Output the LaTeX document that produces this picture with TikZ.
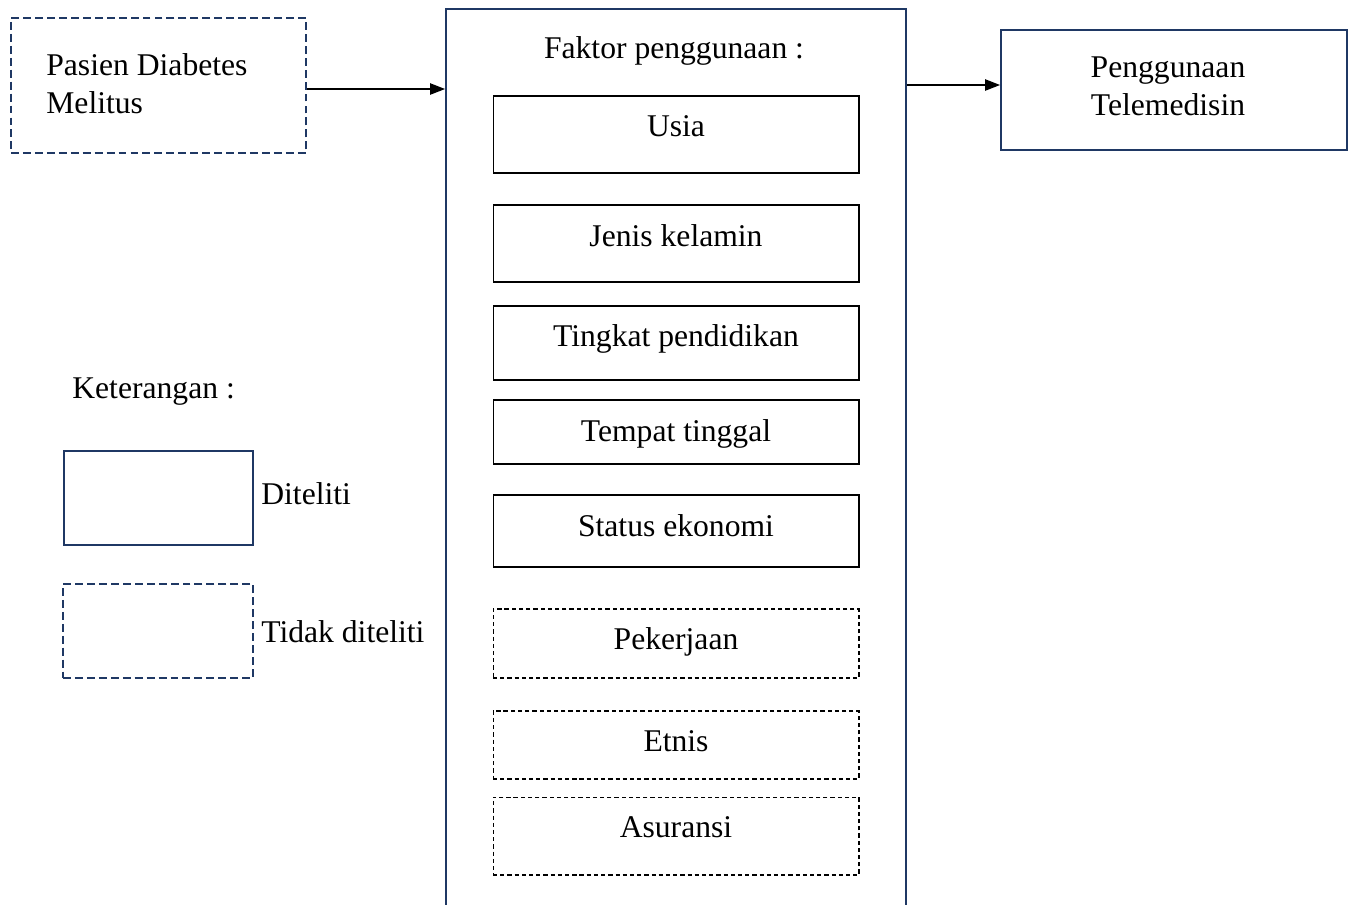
\documentclass[tikz,border=0pt]{standalone}
\usepackage{fontspec}
\setmainfont{Liberation Serif}
\usetikzlibrary{arrows.meta,calc}
\definecolor{navy}{RGB}{31,56,100}
\tikzset{
  navybox/.style={draw=navy, line width=1.2pt, rectangle, inner sep=0pt},
  navydash/.style={navybox, dash pattern=on 4.5pt off 2.3pt},
  ibox/.style={draw=black, line width=0.6pt, rectangle, inner sep=0pt, minimum width=7.32cm},
  idash/.style={ibox, dash pattern=on 2.4pt off 1.7pt},
  txt/.style={inner sep=0pt, font=\fontsize{18}{22}\selectfont},
  arr/.style={-{Triangle[length=8.5pt,width=6.5pt]}, line width=0.6pt, draw=black}
}
\begin{document}
\begin{tikzpicture}[x=0.02cm,y=-0.02cm]
\useasboundingbox (0,0) rectangle (1354,904);
\clip (0,0) rectangle (1354,904);
\fill[white] (0,0) rectangle (1354,904);

% left input box
\node[navydash, minimum width=5.9cm, minimum height=2.7cm] (pasien) at (158.5,85.5) {};
\node[txt, anchor=base west] (p1) at (46,75) {Pasien Diabetes};
\node[txt, anchor=base west] (p2) at (46,113) {Melitus};

% big factor box
\node[navybox, anchor=north west, minimum width=9.2cm, minimum height=20cm] (faktor) at (445,8) {};
\node[txt, anchor=base] (ft) at (674,58) {Faktor penggunaan :};

% inner boxes
\node[ibox, minimum height=1.54cm] (usia) at (676,134.5) {};
\node[txt, anchor=base] (usiat) at (676,136) {Usia};
\node[ibox, minimum height=1.54cm] (jenis) at (676,243.5) {};
\node[txt, anchor=base] (jenist) at (676,246) {Jenis kelamin};
\node[ibox, minimum height=1.48cm] (tingkat) at (676,343) {};
\node[txt, anchor=base] (tingkatt) at (676,346) {Tingkat pendidikan};
\node[ibox, minimum height=1.28cm] (tempat) at (676,432) {};
\node[txt, anchor=base] (tempatt) at (676,441) {Tempat tinggal};
\node[ibox, minimum height=1.44cm] (status) at (676,531) {};
\node[txt, anchor=base] (statust) at (676,536) {Status ekonomi};
\node[idash, minimum height=1.38cm] (pekerjaan) at (676,643.5) {};
\node[txt, anchor=base] (pekerjaant) at (676,649) {Pekerjaan};
\node[idash, minimum height=1.36cm] (etnis) at (676,745) {};
\node[txt, anchor=base] (etnist) at (676,751) {Etnis};
\node[idash, minimum height=1.56cm] (asuransi) at (676,836) {};
\node[txt, anchor=base] (asuransit) at (676,837) {Asuransi};

% output box
\node[navybox, minimum width=6.92cm, minimum height=2.4cm] (out) at (1174,90) {};
\node[txt, anchor=base] (o1) at (1168,77) {Penggunaan};
\node[txt, anchor=base] (o2) at (1168,115) {Telemedisin};

% connectors
\draw[arr] ([yshift=-0.07cm]pasien.east) -- ([yshift=-0.07cm]pasien.east -| faktor.west);
\draw[arr] ([yshift=0.1cm]out.west -| faktor.east) -- ([yshift=0.1cm]out.west);

% legend
\node[txt, anchor=base west] (ket) at (72,398) {Keterangan :};
\node[navybox, minimum width=3.78cm, minimum height=1.88cm] (legd) at (158.5,498) {};
\node[txt, anchor=base west] (legdt) at (261,504) {Diteliti};
\node[navydash, minimum width=3.8cm, minimum height=1.88cm] (legn) at (158,631) {};
\node[txt, anchor=base west] (legnt) at (261,642) {Tidak diteliti};
\end{tikzpicture}
\end{document}
